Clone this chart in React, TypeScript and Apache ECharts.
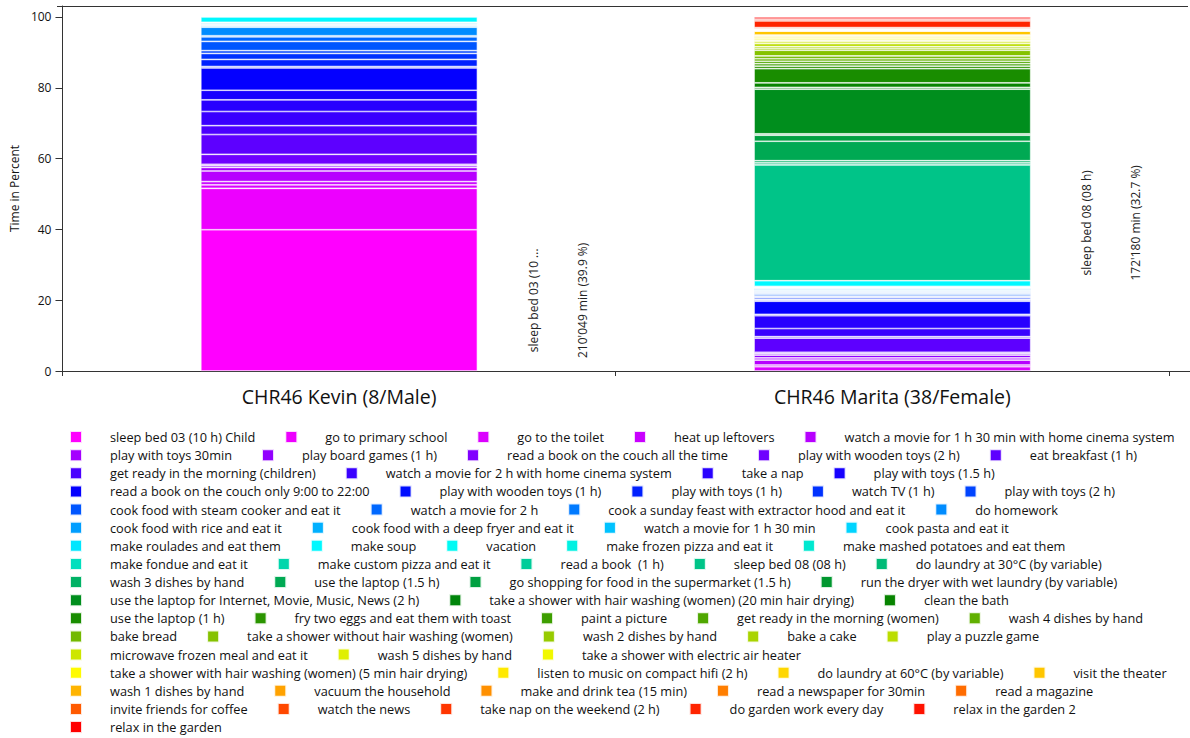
import React, { useEffect, useRef } from "react";
import * as echarts from "echarts";

const persons = ["CHR46 Kevin (8/Male)", "CHR46 Marita (38/Female)"];

const activities = [
  "sleep bed 03 (10 h) Child", "go to primary school", "go to the toilet", "heat up leftovers",
  "watch a movie for 1 h 30 min with home cinema system",
  "play with toys 30min", "play board games (1 h)", "read a book on the couch all the time",
  "play with wooden toys (2 h)", "eat breakfast (1 h)",
  "get ready in the morning (children)", "watch a movie for 2 h with home cinema system", "take a nap",
  "play with toys (1.5 h)",
  "read a book on the couch only 9:00 to 22:00", "play with wooden toys (1 h)", "play with toys (1 h)",
  "watch TV (1 h)", "play with toys (2 h)",
  "cook food with steam cooker and eat it", "watch a movie for 2 h",
  "cook a sunday feast with extractor hood and eat it", "do homework",
  "cook food with rice and eat it", "cook food with a deep fryer and eat it", "watch a movie for 1 h 30 min",
  "cook pasta and eat it",
  "make roulades and eat them", "make soup", "vacation", "make frozen pizza and eat it",
  "make mashed potatoes and eat them",
  "make fondue and eat it", "make custom pizza and eat it", "read a book  (1 h)", "sleep bed 08 (08 h)",
  "do laundry at 30°C (by variable)",
  "wash 3 dishes by hand", "use the laptop (1.5 h)", "go shopping for food in the supermarket (1.5 h)",
  "run the dryer with wet laundry (by variable)",
  "use the laptop for Internet, Movie, Music, News (2 h)",
  "take a shower with hair washing (women) (20 min hair drying)", "clean the bath",
  "use the laptop (1 h)", "fry two eggs and eat them with toast", "paint a picture",
  "get ready in the morning (women)", "wash 4 dishes by hand",
  "bake bread", "take a shower without hair washing (women)", "wash 2 dishes by hand", "bake a cake",
  "play a puzzle game",
  "microwave frozen meal and eat it", "wash 5 dishes by hand", "take a shower with electric air heater",
  "take a shower with hair washing (women) (5 min hair drying)", "listen to music on compact hifi (2 h)",
  "do laundry at 60°C (by variable)", "visit the theater",
  "wash 1 dishes by hand", "vacuum the household", "make and drink tea (15 min)",
  "read a newspaper for 30min", "read a magazine",
  "invite friends for coffee", "watch the news", "take nap on the weekend (2 h)", "do garden work every day",
  "relax in the garden 2",
  "relax in the garden",
];

// share of time in percent, same order as activities
const kevinShares = [
  39.9, 11.7, 1.0, 0.9, 3.0, 1.0, 0.5, 0.4, 2.8, 5.6,
  2.5, 4.0, 3.3, 2.7, 6.3, 0.4, 2.0, 1.7, 0.8, 2.6,
  1.3, 0.3, 2.4, 0.3, 0.3, 0.3, 0.3, 0.2, 1.5, 0,
  0, 0, 0, 0, 0, 0, 0, 0, 0, 0,
  0, 0, 0, 0, 0, 0, 0, 0, 0, 0,
  0, 0, 0, 0, 0, 0, 0, 0, 0, 0,
  0, 0, 0, 0, 0, 0, 0, 0, 0, 0,
  0, 0,
];

const maritaShares = [
  0, 0, 1.2, 0.5, 1.4, 0.6, 0.8, 0.4, 0.4, 4.0,
  0.4, 2.3, 3.6, 0.4, 3.7, 0.3, 0.3, 0.5, 0.3, 0.4,
  0.4, 0.3, 0.3, 0.3, 0.3, 0.3, 0.2, 0.3, 1.6, 0,
  0, 0, 0, 0, 0, 32.7, 0.6, 0.6, 5.5, 1.7,
  0.4, 12.6, 0.5, 1.3, 4.0, 0.7, 0.7, 0.7, 0.7, 0.8,
  1.6, 0.5, 0.5, 0.9, 0.5, 0.4, 0.4, 0.4, 0.4, 0.3,
  1.1, 0.1, 0.1, 0.1, 0.1, 0.1, 0.1, 0.1, 0.3, 1.9,
  0.5, 0.6,
];

// number of legend entries per legend row
const legendRowSizes = [5, 5, 4, 5, 4, 4, 5, 5, 4, 3, 5, 5, 3, 4, 5, 5, 1];

// text beside the largest segment of each bar
const bigSegmentLabels = [
  { series: 0, person: 0, lines: ["sleep bed 03 (10 ...", "210'049 min (39.9 %)"] },
  { series: 35, person: 1, lines: ["sleep bed 08 (08 h)", "172'180 min (32.7 %)"] },
];

const paletteStops = ["#ff00ff", "#0000ff", "#00ffff", "#008000", "#ffff00", "#ff0000"];

const yMin = 0;
const yMax = 103.1;
const yInterval = 20;

function hexToRgb(h: string) {
  return [parseInt(h.slice(1, 3), 16), parseInt(h.slice(3, 5), 16), parseInt(h.slice(5, 7), 16)];
}

function paletteColor(i: number, n: number) {
  const y = ((paletteStops.length - 1) * i) / (n - 1);
  const i0 = Math.floor(y);
  const i1 = Math.min(i0 + 1, paletteStops.length - 1);
  const t = y - i0;
  const a = hexToRgb(paletteStops[i0]);
  const b = hexToRgb(paletteStops[i1]);
  const c = a.map((v, k) => Math.round(v + (b[k] - v) * t));
  return `rgb(${c[0]},${c[1]},${c[2]})`;
}

const FONT = "'Open Sans', 'Noto Sans', sans-serif";

export default function App() {
  const ref = useRef<HTMLDivElement>(null);

  useEffect(() => {
    if (!ref.current) return;
    const chart = echarts.init(ref.current, undefined, { renderer: "svg" });
    const n = activities.length;

    const series = activities.map((name, i) => {
      const data: any[] = [kevinShares[i], maritaShares[i]].map((v) => (v > 0 ? v : "-"));
      bigSegmentLabels.forEach((lab) => {
        if (lab.series === i) {
          data[lab.person] = {
            value: data[lab.person],
            label: {
              show: true,
              position: [357, "50%"],
              rotate: 90,
              align: "center",
              verticalAlign: "middle",
              lineHeight: 49,
              fontSize: 12,
              fontFamily: FONT,
              color: "#222",
              formatter: lab.lines.join("\n"),
            },
          };
        }
      });
      return {
        type: "bar",
        name,
        stack: "total",
        barWidth: "50%",
        data,
        itemStyle: {
          color: paletteColor(i, n),
          borderColor: "rgba(255,255,255,0.85)",
          borderWidth: 0.7,
        },
        emphasis: { disabled: true },
      };
    });

    const legends: any[] = [];
    let start = 0;
    legendRowSizes.forEach((cnt, r) => {
      legends.push({
        show: true,
        selectedMode: false,
        left: 69,
        top: 430 + r * 18.13,
        orient: "horizontal",
        itemWidth: 12,
        itemHeight: 12,
        itemGap: 29,
        icon: "rect",
        padding: 0,
        data: activities.slice(start, start + cnt),
        textStyle: {
          fontSize: 12.75,
          fontFamily: FONT,
          color: "#111",
          padding: [0, 0, 0, 23],
        },
      });
      start += cnt;
    });

    chart.setOption({
      animation: false,
      backgroundColor: "#fff",
      grid: { left: 57, right: 21, top: 6, bottom: 367, containLabel: false },
      legend: legends,
      xAxis: {
        type: "category",
        data: persons,
        axisLine: { lineStyle: { color: "#333", width: 1 } },
        axisTick: { show: true, length: 5, alignWithLabel: false, lineStyle: { color: "#333" } },
        axisLabel: { fontSize: 19.5, fontFamily: FONT, color: "#111", margin: 15 },
      },
      yAxis: {
        type: "value",
        min: yMin,
        max: yMax,
        interval: yInterval,
        name: "Time in Percent",
        nameLocation: "middle",
        nameRotate: 90,
        nameGap: 42,
        nameTextStyle: { fontSize: 12, fontFamily: FONT, color: "#111" },
        axisLine: { show: true, lineStyle: { color: "#333", width: 1 } },
        axisTick: { show: true, length: 7, lineStyle: { color: "#333" } },
        axisLabel: { fontSize: 12, fontFamily: FONT, color: "#111", margin: 11 },
        splitLine: { show: false },
      },
      graphic: [
        { type: "line", shape: { x1: 57, y1: 6.5, x2: 1188, y2: 6.5 }, style: { stroke: "#333", lineWidth: 1 } },
        { type: "line", shape: { x1: 1169, y1: 371.5, x2: 1190, y2: 371.5 }, style: { stroke: "#333", lineWidth: 1 } },
      ],
      series,
    });

    return () => chart.dispose();
  }, []);

  return (
    <div
      ref={ref}
      style={{ position: "fixed", left: 0, top: 0, width: 1190, height: 738, background: "#fff" }}
    />
  );
}
